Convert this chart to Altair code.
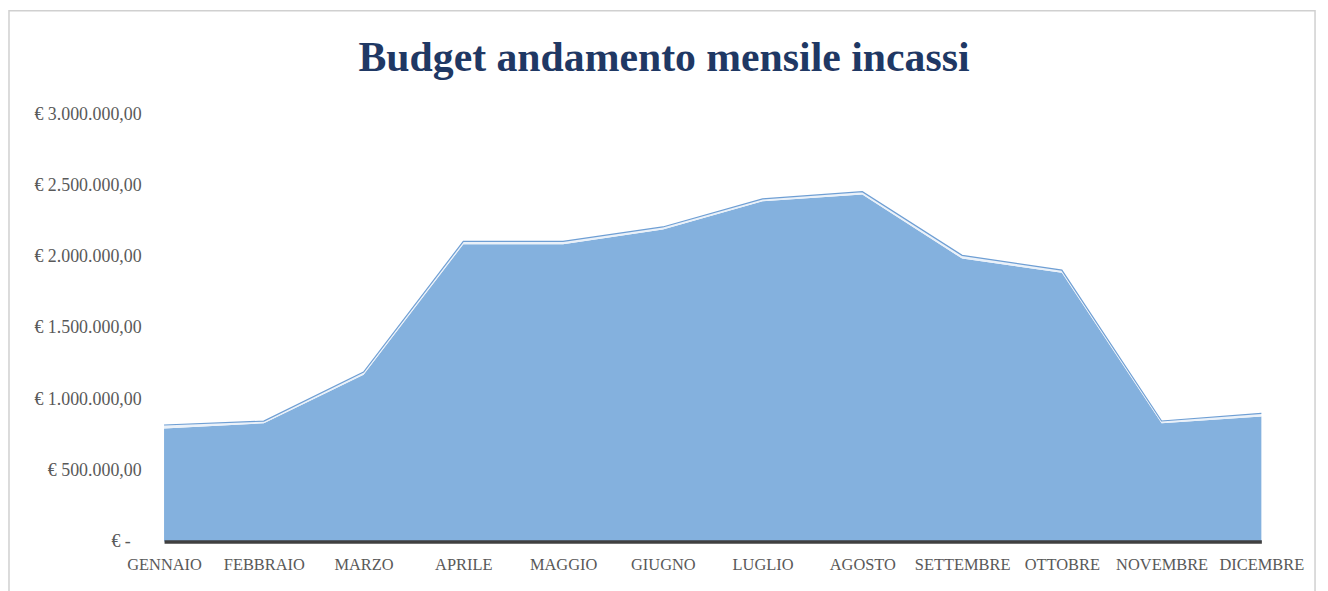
import altair as alt
import pandas as pd

mesi = ["GENNAIO", "FEBBRAIO", "MARZO", "APRILE", "MAGGIO", "GIUGNO",
        "LUGLIO", "AGOSTO", "SETTEMBRE", "OTTOBRE", "NOVEMBRE", "DICEMBRE"]
incassi = [793000, 830000, 1170000, 2086000, 2086000, 2190000,
           2388000, 2435000, 1986000, 1886000, 830000, 877000]
extra = [25000, 15000, 20000, 21000, 21000, 18000,
         17000, 21000, 23000, 19000, 16000, 23000]
y_ticks = [0, 500000, 1000000, 1500000, 2000000, 2500000, 3000000]

df = pd.DataFrame({
    "mese": mesi,
    "incassi": incassi,
    "totale": [a + b for a, b in zip(incassi, extra)],
})

FONT = "Liberation Serif"
GREY = "#595959"

label_expr = (
    "datum.value == 0 ? '€ -' : '€ ' + "
    "replace(replace(replace(replace(format(datum.value, ',.2f'), '.', ';'), ',', '.'), ',', '.'), ';', ',')"
)

x_enc = alt.X(
    "mese:N", sort=mesi,
    scale=alt.Scale(type="point", padding=0),
    axis=alt.Axis(title=None, labelAngle=0, ticks=False, labelFont=FONT,
                  labelFontSize=16.5, labelColor=GREY, labelPadding=15,
                  domainColor="#404040", domainWidth=3.5, zindex=1),
)

main = alt.Chart(df).mark_area(color="#84b1de", opacity=1).encode(
    x=x_enc,
    y=alt.Y("incassi:Q", scale=alt.Scale(domain=[0, 3000000], nice=False),
            axis=alt.Axis(title=None, values=y_ticks, grid=False, ticks=False,
                          domain=False, labelFont=FONT, labelFontSize=18,
                          labelColor=GREY,
                          labelPadding={"condition": {"test": "datum.value == 0", "value": 34}, "value": 23},
                          labelExpr=label_expr)),
)

top = alt.Chart(df).mark_area(
    color="#eaf1f9", opacity=1,
    line={"color": "#6f9fd4", "strokeWidth": 1.2},
).encode(
    x=alt.X("mese:N", sort=mesi),
    y="totale:Q",
    y2="incassi:Q",
)

border = alt.Chart(pd.DataFrame({"k": [0]})).mark_rect(
    filled=False, stroke="#d0d0d0", strokeWidth=1.5
).encode(
    x=alt.value(-156), x2=alt.value(1158),
    y=alt.value(-104), y2=alt.value(520),
)

chart = alt.layer(border, main, top).properties(
    width=1104, height=430,
    padding={"left": 157, "top": 105, "right": 59, "bottom": 48},
    autosize=alt.AutoSizeParams(type="none"),
    title=alt.TitleParams(
        "Budget andamento mensile incassi", font=FONT, fontSize=42,
        fontWeight="bold", color="#1f3864", anchor="middle", frame="group",
        dx=-49, baseline="alphabetic", offset=-103,
    ),
).configure_view(stroke=None)

chart.save("out.html", embed_options={"renderer": "svg", "actions": False})
